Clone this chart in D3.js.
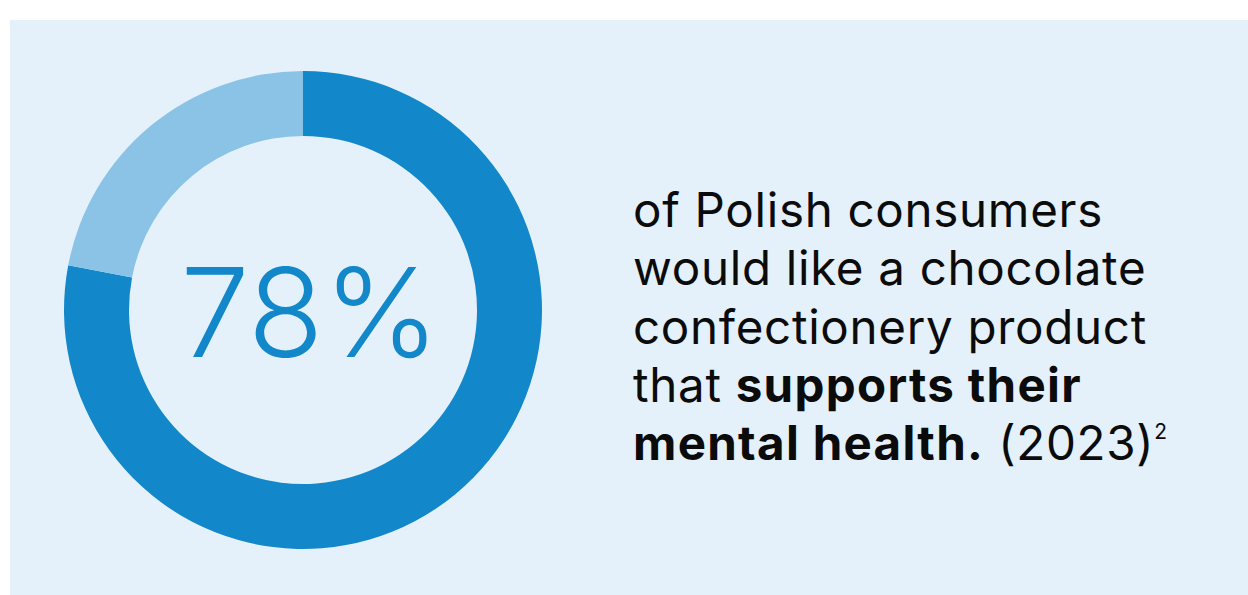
<!DOCTYPE html>
<html>
<head>
<meta charset="utf-8">
<script src="https://cdn.jsdelivr.net/npm/d3@7"></script>
<style>
  html, body { margin: 0; padding: 0; background: #ffffff; }
  svg { display: block; }
</style>
</head>
<body>
<svg id="chart" width="1248" height="595"></svg>
<script>
// Share of Polish consumers who want a chocolate product supporting mental health
const segments = ["Would like such a product", "Other"];
const shares = [78, 22];
const segmentColors = ["#1287c9", "#8ac3e5"];
const headline = "78%";

// Statement lines: each line is a list of [text, bold] runs
const statementLines = [
  [["of Polish consumers", false]],
  [["would like a chocolate", false]],
  [["confectionery product", false]],
  [["that ", false], ["supports their", true]],
  [["mental health.", true], [" (2023)", false]]
];
const footnoteMark = "2";

const W = 1248, H = 595;
const svg = d3.select("#chart");

// Light panel
svg.append("rect")
  .attr("x", 10).attr("y", 20)
  .attr("width", 1238).attr("height", 575)
  .attr("fill", "#e4f1fa");

// Donut
const cx = 303, cy = 310, outerR = 239, innerR = 174;
const pie = d3.pie().sort(null).value(d => d)(shares);
const arc = d3.arc().innerRadius(innerR).outerRadius(outerR);

const donut = svg.append("g").attr("transform", `translate(${cx},${cy})`);
donut.selectAll("path")
  .data(pie)
  .join("path")
  .attr("d", arc)
  .attr("fill", (d, i) => segmentColors[i]);

donut.append("text")
  .attr("x", 7).attr("y", 47)
  .attr("text-anchor", "middle")
  .attr("font-family", "Inter, 'Open Sans', sans-serif")
  .attr("font-weight", 300)
  .attr("font-size", 124)
  .attr("fill", "#1287c9")
  .text(headline);

// Statement text
const textX = 633, firstBaseline = 227, lineStep = 58.3;
const text = svg.append("g")
  .attr("font-family", "Inter, 'Open Sans', sans-serif")
  .attr("font-size", 47.5)
  .attr("fill", "#0b0b0b");

statementLines.forEach((runs, i) => {
  const t = text.append("text")
    .attr("x", textX)
    .attr("y", firstBaseline + i * lineStep);
  runs.forEach(([s, bold]) => {
    t.append("tspan")
      .attr("font-weight", bold ? 700 : 400)
      .attr("letter-spacing", bold ? 1.3 : 0.7)
      .text(s);
  });
  if (i === statementLines.length - 1) {
    t.append("tspan")
      .attr("font-size", 21)
      .attr("dy", -21)
      .text(footnoteMark);
  }
});
</script>
</body>
</html>
